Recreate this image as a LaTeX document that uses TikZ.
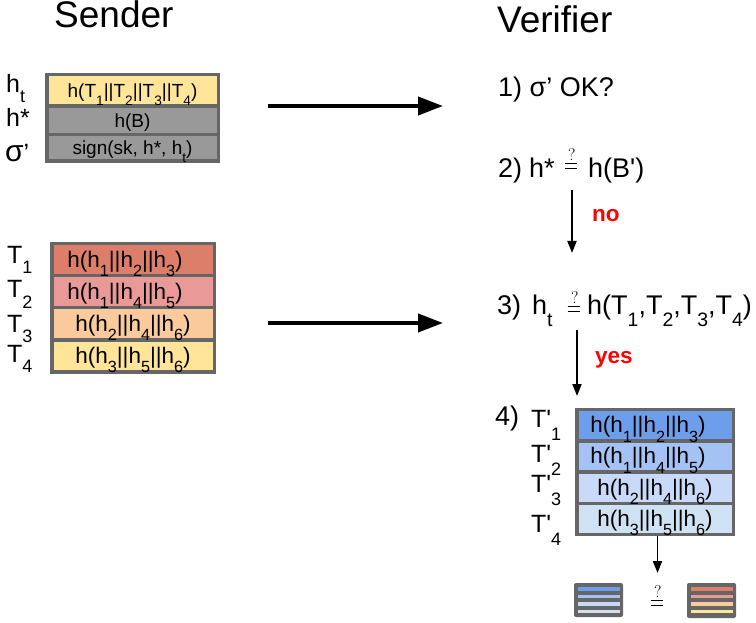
\documentclass[tikz,border=0pt]{standalone}
\usepackage{fontspec}
\setmainfont{Liberation Sans}
\newfontfamily\lmr{Latin Modern Roman}
\usepackage{graphicx}
\usetikzlibrary{arrows.meta}

\definecolor{frame}{HTML}{666666}
\definecolor{cgray}{HTML}{999999}
\definecolor{cyellow}{HTML}{FFE599}
\definecolor{cred}{HTML}{DD7E6B}
\definecolor{cpink}{HTML}{EA9999}
\definecolor{corange}{HTML}{F9CB9C}
\definecolor{cblueA}{HTML}{6D9EEB}
\definecolor{cblueB}{HTML}{A4C2F4}
\definecolor{cblueC}{HTML}{C9DAF8}
\definecolor{cblueD}{HTML}{CFE2F3}
\definecolor{answer}{HTML}{FF0000}

% lowered, reduced index as used throughout the labels
\newcommand\lo[2][0.42em]{\raisebox{-#1}{\scalebox{0.72}{#2}}}

\begin{document}
\begin{tikzpicture}[x=1pt,y=-1pt,
  rowcell/.style={draw=frame, line width=3.5pt, rectangle, inner sep=0pt, outer sep=0pt},
  topcell/.style={rowcell, minimum width=171.5pt},
  tcell/.style={rowcell, minimum width=162.5pt, minimum height=32.125pt},
  vcell/.style={rowcell, minimum width=156.5pt, minimum height=31.25pt},
  toptext/.style={font=\fontsize{19}{23}\selectfont, anchor=base, inner sep=0pt},
  rowtext/.style={font=\fontsize{22.5}{26}\selectfont, anchor=base, inner sep=0pt},
  lab/.style={font=\fontsize{25}{30}\selectfont, anchor=base west, inner sep=0pt},
  steptext/.style={font=\fontsize{27}{32}\selectfont, anchor=base west, inner sep=0pt},
  title/.style={font=\fontsize{37}{44}\selectfont, anchor=base west, inner sep=0pt},
  verdict/.style={font=\fontsize{22.5}{26}\selectfont\bfseries, text=answer, anchor=base west, inner sep=0pt},
  bigarrow/.style={line width=4pt, -{Triangle[length=25pt,width=18pt]}},
  smallarrow/.style={line width=1.8pt, -{Triangle[length=12pt,width=9pt]}},
  % "questioned equality" sign: a question mark over an equals sign
  pics/queq/.style={code={
    \node[font=\lmr\fontsize{17}{17}\selectfont, inner sep=0pt] (#1) at (0.8,-11) {?};
    \draw[line width=1.3pt] (-6.3,-2.4) -- (6.3,-2.4) (-6.3,2.4) -- (6.3,2.4);
  }}]

\useasboundingbox (0,0) rectangle (756,623);

% headings
\node[title] (sender) at (54,28) {Sender};
\node[title] (verifier) at (497,33) {Verifier};

% signed header
\node[topcell, minimum height=31.5pt, fill=cyellow] (ht) at (132.5,90.25) {};
\node[topcell, minimum height=28.5pt, fill=cgray] (hs) at (132.5,120.25) {};
\node[topcell, minimum height=26.5pt, fill=cgray] (sg) at (132.5,147.75) {};
\node[toptext] (htx) at ([yshift=-7pt]ht.center) {h(T\lo{1}||T\lo{2}||T\lo{3}||T\lo{4})};
\node[toptext] (hsx) at ([yshift=-7pt]hs.center) {h(B)};
\node[toptext] (sgx) at ([yshift=-7pt]sg.center) {sign(sk, h*, h\lo{t})};
\node[lab] (lht) at (6,93) {h\lo[0.4em]{t}};
\node[lab] (lhs) at (6,127) {h*};
\node[lab] (lsg) at (5,162) {\scalebox{1.2}{σ}’};

% sender's transaction list
\node[tcell, fill=cred] (t1) at (133,259.56) {};
\node[tcell, fill=cpink] (t2) at (133,291.69) {};
\node[tcell, fill=corange] (t3) at (133,323.81) {};
\node[tcell, fill=cyellow] (t4) at (133,355.94) {};
\node[rowtext] (t1x) at ([xshift=-8pt,yshift=-7.5pt]t1.center) {h(h\lo{1}||h\lo{2}||h\lo{3})};
\node[rowtext] (t2x) at ([xshift=-8pt,yshift=-7.5pt]t2.center) {h(h\lo{1}||h\lo{4}||h\lo{5})};
\node[rowtext] (t3x) at ([yshift=-7.5pt]t3.center) {h(h\lo{2}||h\lo{4}||h\lo{6})};
\node[rowtext] (t4x) at ([yshift=-7.5pt]t4.center) {h(h\lo{3}||h\lo{5}||h\lo{6})};
\node[lab] (lt1) at (7,263) {T\lo[0.42em]{1}};
\node[lab] (lt2) at (7,298) {T\lo[0.42em]{2}};
\node[lab] (lt3) at (7,332) {T\lo[0.42em]{3}};
\node[lab] (lt4) at (7,362) {T\lo[0.42em]{4}};

% transfer arrows
\coordinate (a1s) at (268,106);
\coordinate (a1e) at (443,106);
\coordinate (a2s) at (268,323);
\coordinate (a2e) at (443,323);
\draw[bigarrow] (a1s) -- (a1e);
\draw[bigarrow] (a2s) -- (a2e);

% verification steps
\node[steptext] (s1) at (498,97) {1) σ’ OK?};
\node[steptext] (n2) at (498,178) {2)};
\node[steptext] (s2a) at (529,178) {h*};
\pic at (571,166) {queq=q2};
\node[steptext] (s2b) at (588,178) {h(B\textquotesingle)};

\coordinate (noS) at (572,190);
\coordinate (noE) at (572,253);
\draw[smallarrow] (noS) -- (noE);
\node[verdict] (no) at (592,222) {no};

\node[steptext] (n3) at (497,315) {3)};
\node[steptext] (s3a) at (532,315) {h\lo{t}};
\pic at (574,309) {queq=q3};
\node[steptext] (s3b) at (587,315) {h(T\lo{1},T\lo{2},T\lo{3},T\lo{4})};

\coordinate (yesS) at (577,330);
\coordinate (yesE) at (577,396);
\draw[smallarrow] (yesS) -- (yesE);
\node[verdict] (yes) at (595,363) {yes};

\node[steptext] (n4) at (495,425) {4)};
\node[vcell, fill=cblueA] (v1) at (655,425.125) {};
\node[vcell, fill=cblueB] (v2) at (655,456.375) {};
\node[vcell, fill=cblueC] (v3) at (655,487.625) {};
\node[vcell, fill=cblueD] (v4) at (655,518.875) {};
\node[rowtext] (v1x) at ([xshift=-7pt,yshift=-7.5pt]v1.center) {h(h\lo{1}||h\lo{2}||h\lo{3})};
\node[rowtext] (v2x) at ([xshift=-7pt,yshift=-7.5pt]v2.center) {h(h\lo{1}||h\lo{4}||h\lo{5})};
\node[rowtext] (v3x) at ([yshift=-7.5pt]v3.center) {h(h\lo{2}||h\lo{4}||h\lo{6})};
\node[rowtext] (v4x) at ([yshift=-7.5pt]v4.center) {h(h\lo{3}||h\lo{5}||h\lo{6})};
\node[lab] (lv1) at (531,427) {T\textquotesingle\lo[0.52em]{1}};
\node[lab] (lv2) at (531,462) {T\textquotesingle\lo[0.52em]{2}};
\node[lab] (lv3) at (531,492) {T\textquotesingle\lo[0.52em]{3}};
\node[lab] (lv4) at (531,532) {T\textquotesingle\lo[0.52em]{4}};

\coordinate (cmpS) at (657.5,536);
\coordinate (cmpE) at (657.5,573);
\draw[smallarrow] (cmpS) -- (cmpE);

% final comparison of both lists
\fill[frame, rounded corners=2pt] (574,583) rectangle (623,617);
\fill[cblueA] (578,587.3) rectangle (620,590.5);
\fill[cblueB] (578,594.8) rectangle (620,598);
\fill[cblueC] (578,602.3) rectangle (620,605.5);
\fill[cblueD] (578,609.8) rectangle (620,613);
\pic at (657,603) {queq=q4};
\fill[frame, rounded corners=2pt] (687,583) rectangle (736,618);
\fill[cred] (691,587.3) rectangle (733,590.5);
\fill[cpink] (691,594.8) rectangle (733,598);
\fill[corange] (691,602.3) rectangle (733,605.5);
\fill[cyellow] (691,609.8) rectangle (733,613);
\end{tikzpicture}
\end{document}
